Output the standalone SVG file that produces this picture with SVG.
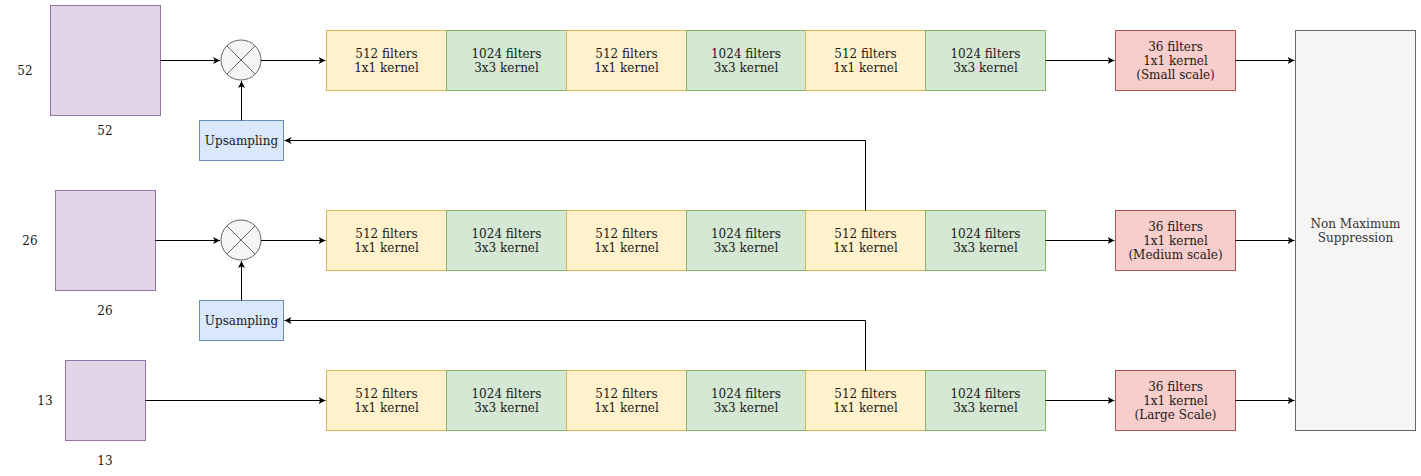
<svg xmlns="http://www.w3.org/2000/svg" width="1421" height="476" viewBox="0 0 1421 476">
<style>
text{font-family:"DejaVu Serif","Liberation Serif",serif;font-size:12px;fill:#1a1a1a;text-anchor:middle}
.in{fill:#e1d5e7;stroke:#9673a6;stroke-width:1}
.y{fill:#fff2cc;stroke:#d6b656;stroke-width:1}
.g{fill:#d5e8d4;stroke:#82b366;stroke-width:1}
.r{fill:#f8cecc;stroke:#b85450;stroke-width:1}
.b{fill:#dae8fc;stroke:#6c8ebf;stroke-width:1}
.n{fill:#f5f5f5;stroke:#666666;stroke-width:1}
.ntxt{fill:#333333}
.c{fill:none;stroke:#000;stroke-width:1;marker-end:url(#a)}
</style>
<defs>
<marker id="a" markerWidth="10" markerHeight="10" refX="7" refY="3.5" orient="auto" markerUnits="userSpaceOnUse">
<path d="M0,0 L7,3.5 L0,7 L1.8,3.5 z" fill="#000"/>
</marker>
<symbol id="dummy"/>
</defs>

<g id="input52"><rect class="in" x="50.5" y="5.5" width="110" height="110"/><text x="25" y="75">52</text><text x="105" y="135">52</text></g>
<g id="input26"><rect class="in" x="55.5" y="190.5" width="100" height="100"/><text x="30" y="245">26</text><text x="105" y="315">26</text></g>
<g id="input13"><rect class="in" x="65.5" y="360.5" width="80" height="80"/><text x="45" y="405">13</text><text x="105" y="465">13</text></g>

<g id="mult1"><circle class="n" cx="241" cy="60" r="20"/><path d="M226.9,45.9 L255.1,74.1 M255.1,45.9 L226.9,74.1" stroke="#666" stroke-width="1"/></g>
<g id="mult2"><circle class="n" cx="241" cy="240" r="20"/><path d="M226.9,225.9 L255.1,254.1 M255.1,225.9 L226.9,254.1" stroke="#666" stroke-width="1"/></g>

<g id="up1"><rect class="b" x="199.5" y="120.5" width="84" height="40"/><text x="241.5" y="145">Upsampling</text></g>
<g id="up2"><rect class="b" x="199.5" y="300.5" width="84" height="40"/><text x="241.5" y="325">Upsampling</text></g>

<g id="row1">
<g id="r1b1"><rect class="y" x="326.5" y="30.5" width="120" height="60"/><text x="386.5" y="57.5">512 filters</text><text x="386.5" y="71.5">1x1 kernel</text></g>
<g id="r1b2"><rect class="g" x="446.5" y="30.5" width="120" height="60"/><text x="506.5" y="57.5">1024 filters</text><text x="506.5" y="71.5">3x3 kernel</text></g>
<g id="r1b3"><rect class="y" x="566.5" y="30.5" width="120" height="60"/><text x="626.5" y="57.5">512 filters</text><text x="626.5" y="71.5">1x1 kernel</text></g>
<g id="r1b4"><rect class="g" x="686.5" y="30.5" width="119" height="60"/><text x="746" y="57.5">1024 filters</text><text x="746" y="71.5">3x3 kernel</text></g>
<g id="r1b5"><rect class="y" x="805.5" y="30.5" width="120" height="60"/><text x="865.5" y="57.5">512 filters</text><text x="865.5" y="71.5">1x1 kernel</text></g>
<g id="r1b6"><rect class="g" x="925.5" y="30.5" width="120" height="60"/><text x="985.5" y="57.5">1024 filters</text><text x="985.5" y="71.5">3x3 kernel</text></g>
</g>
<g id="row2">
<g id="r2b1"><rect class="y" x="326.5" y="210.5" width="120" height="60"/><text x="386.5" y="237.5">512 filters</text><text x="386.5" y="251.5">1x1 kernel</text></g>
<g id="r2b2"><rect class="g" x="446.5" y="210.5" width="120" height="60"/><text x="506.5" y="237.5">1024 filters</text><text x="506.5" y="251.5">3x3 kernel</text></g>
<g id="r2b3"><rect class="y" x="566.5" y="210.5" width="120" height="60"/><text x="626.5" y="237.5">512 filters</text><text x="626.5" y="251.5">1x1 kernel</text></g>
<g id="r2b4"><rect class="g" x="686.5" y="210.5" width="119" height="60"/><text x="746" y="237.5">1024 filters</text><text x="746" y="251.5">3x3 kernel</text></g>
<g id="r2b5"><rect class="y" x="805.5" y="210.5" width="120" height="60"/><text x="865.5" y="237.5">512 filters</text><text x="865.5" y="251.5">1x1 kernel</text></g>
<g id="r2b6"><rect class="g" x="925.5" y="210.5" width="120" height="60"/><text x="985.5" y="237.5">1024 filters</text><text x="985.5" y="251.5">3x3 kernel</text></g>
</g>
<g id="row3">
<g id="r3b1"><rect class="y" x="326.5" y="370.5" width="120" height="60"/><text x="386.5" y="397.5">512 filters</text><text x="386.5" y="411.5">1x1 kernel</text></g>
<g id="r3b2"><rect class="g" x="446.5" y="370.5" width="120" height="60"/><text x="506.5" y="397.5">1024 filters</text><text x="506.5" y="411.5">3x3 kernel</text></g>
<g id="r3b3"><rect class="y" x="566.5" y="370.5" width="120" height="60"/><text x="626.5" y="397.5">512 filters</text><text x="626.5" y="411.5">1x1 kernel</text></g>
<g id="r3b4"><rect class="g" x="686.5" y="370.5" width="119" height="60"/><text x="746" y="397.5">1024 filters</text><text x="746" y="411.5">3x3 kernel</text></g>
<g id="r3b5"><rect class="y" x="805.5" y="370.5" width="120" height="60"/><text x="865.5" y="397.5">512 filters</text><text x="865.5" y="411.5">1x1 kernel</text></g>
<g id="r3b6"><rect class="g" x="925.5" y="370.5" width="120" height="60"/><text x="985.5" y="397.5">1024 filters</text><text x="985.5" y="411.5">3x3 kernel</text></g>
</g>

<g id="out1"><rect class="r" x="1115.5" y="30.5" width="120" height="60"/><text x="1175.5" y="50.5">36 filters</text><text x="1175.5" y="64.5">1x1 kernel</text><text x="1175.5" y="78.5">(Small scale)</text></g>
<g id="out2"><rect class="r" x="1115.5" y="210.5" width="120" height="60"/><text x="1175.5" y="230.5">36 filters</text><text x="1175.5" y="244.5">1x1 kernel</text><text x="1175.5" y="258.5">(Medium scale)</text></g>
<g id="out3"><rect class="r" x="1115.5" y="370.5" width="120" height="60"/><text x="1175.5" y="390.5">36 filters</text><text x="1175.5" y="404.5">1x1 kernel</text><text x="1175.5" y="418.5">(Large Scale)</text></g>

<g id="nms"><rect class="n" x="1295.5" y="30.5" width="120" height="400"/><text class="ntxt" x="1355.5" y="227.5">Non Maximum</text><text class="ntxt" x="1355.5" y="241.5">Suppression</text></g>

<g id="connectors">
<path class="c" d="M160.5,60.5 L220,60.5"/>
<path class="c" d="M261,60.5 L325.5,60.5"/>
<path class="c" d="M241.5,120.5 L241.5,81"/>
<path class="c" d="M865.5,210.5 L865.5,140.5 L284.5,140.5"/>
<path class="c" d="M155.5,240.5 L220,240.5"/>
<path class="c" d="M261,240.5 L325.5,240.5"/>
<path class="c" d="M241.5,300.5 L241.5,261"/>
<path class="c" d="M865.5,370.5 L865.5,320.5 L284.5,320.5"/>
<path class="c" d="M145.5,400.5 L325.5,400.5"/>
<path class="c" d="M1045.5,60.5 L1114.5,60.5"/>
<path class="c" d="M1045.5,240.5 L1114.5,240.5"/>
<path class="c" d="M1045.5,400.5 L1114.5,400.5"/>
<path class="c" d="M1235.5,60.5 L1294.5,60.5"/>
<path class="c" d="M1235.5,240.5 L1294.5,240.5"/>
<path class="c" d="M1235.5,400.5 L1294.5,400.5"/>
</g>
</svg>
